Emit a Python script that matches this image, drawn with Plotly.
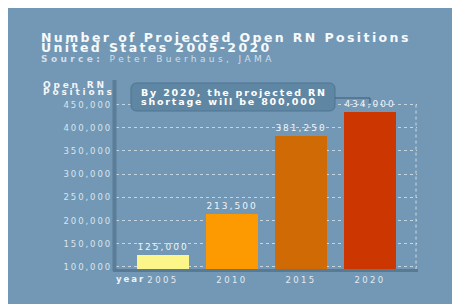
import plotly.graph_objects as go

# ---- data ----
years = ["2005", "2010", "2015", "2020"]
open_positions = [125000, 213500, 381250, 434000]
bar_colors = ["#fcf68a", "#fd9a02", "#d06a04", "#cc3600"]
y_ticks = [100000, 150000, 200000, 250000, 300000, 350000, 400000, 450000]
title_1 = "Number of Projected Open RN Positions"
title_2 = "United States 2005-2020"
source_label = "Source:"
source_text = "Peter Buerhaus, JAMA"
y_title = ["Open RN", "Positions"]
x_title = "year"
callout = ["By 2020, the projected RN", "shortage will be 800,000"]

# ---- layout geometry (screen pixels; page body adds an 8px offset) ----
W, H = 460, 304
OFF = 8
L, R, T, B = 116, 417, 80, 270
BG = "#7298b5"
FONT = "DejaVu Sans"
Y_MIN, Y_MAX = 93500, 503000


def px(x):
    return (x - L) / (R - L)


def py(y):
    return (B - y) / (B - T)


def sp(text, ls):
    return f'<span style="letter-spacing:{ls}px">{text}</span>'


xpos = list(range(len(years)))

fig = go.Figure()
fig.add_trace(go.Bar(
    x=xpos, y=open_positions, width=0.754,
    marker=dict(color=bar_colors, line=dict(width=0)),
    text=[sp(f"{v:,}", 2.0) for v in open_positions],
    textposition="outside", cliponaxis=False,
    textfont=dict(family=FONT, size=9, color="#eef3f7"),
    hoverinfo="skip",
))

shapes = []
# right dotted border of grid
shapes.append(dict(type="line", xref="paper", yref="y", x0=px(416), x1=px(416), y0=y_ticks[-1], y1=Y_MIN,
                   line=dict(color="rgba(255,255,255,0.65)", width=1, dash="dot")))
# axis lines
shapes.append(dict(type="line", xref="paper", yref="paper", x0=px(114.5), x1=px(114.5), y0=py(80), y1=py(271),
                   line=dict(color="#5b7d97", width=4)))
shapes.append(dict(type="line", xref="paper", yref="paper", x0=px(113), x1=px(418), y0=py(270.5), y1=py(270.5),
                   line=dict(color="#587a93", width=3)))
# callout box (rounded)
bx0, bx1, by0, by1, r = 131, 335, 83, 111, 6
path = (f"M {px(bx0 + r)},{py(by0)} L {px(bx1 - r)},{py(by0)} "
        f"Q {px(bx1)},{py(by0)} {px(bx1)},{py(by0 + r)} L {px(bx1)},{py(by1 - r)} "
        f"Q {px(bx1)},{py(by1)} {px(bx1 - r)},{py(by1)} L {px(bx0 + r)},{py(by1)} "
        f"Q {px(bx0)},{py(by1)} {px(bx0)},{py(by1 - r)} L {px(bx0)},{py(by0 + r)} "
        f"Q {px(bx0)},{py(by0)} {px(bx0 + r)},{py(by0)} Z")
shapes.append(dict(type="path", xref="paper", yref="paper", path=path,
                   fillcolor="#5f87a3", line=dict(color="#4e7590", width=1)))
# bracket line from callout to 2020 bar
shapes.append(dict(type="path", xref="paper", yref="paper",
                   path=f"M {px(335)},{py(98)} L {px(370)},{py(98)} L {px(370)},{py(103)}",
                   line=dict(color="#3f5b72", width=1)))

annotations = []


def ann(text, x, y, size, color, bold=False, xanchor="left", yanchor="middle"):
    t = f"<b>{text}</b>" if bold else text
    annotations.append(dict(text=t, xref="paper", yref="paper", x=px(x), y=py(y),
                            xanchor=xanchor, yanchor=yanchor, showarrow=False,
                            font=dict(family=FONT, size=size, color=color)))


ann(sp(title_1, 2.4), 39, 37.3, 12.5, "#f7f9fb", bold=True)
ann(sp(title_2, 2.4), 39, 47.3, 12.5, "#f7f9fb", bold=True)
ann(sp(f"<b>{source_label}</b> {source_text}", 3.4), 39, 59.2, 9, "#d3dee8")
ann(sp(y_title[0], 2.8), 41, 84.7, 9, "#f2f5f8", bold=True)
ann(sp(y_title[1], 2.8), 41, 92.2, 9, "#f2f5f8", bold=True)
ann(sp(x_title, 2.0), 114, 278.8, 8.5, "#eef3f7", bold=True)
ann(sp(callout[0], 1.8), 139, 92.3, 9.5, "#ffffff", bold=True)
ann(sp(callout[1], 1.8), 139, 101.5, 9.5, "#ffffff", bold=True)

fig.update_layout(
    width=W, height=H,
    margin=dict(l=L - OFF, r=W - (R - OFF), t=T - OFF, b=H - (B - OFF), pad=0),
    paper_bgcolor=BG, plot_bgcolor="rgba(0,0,0,0)",
    showlegend=False, bargap=0,
    shapes=shapes, annotations=annotations,
    xaxis=dict(range=[-0.68, 3.68], tickvals=xpos, ticktext=[sp(y, 2.4) for y in years],
               tickfont=dict(family=FONT, size=8.5, color="#e3ebf2"),
               showgrid=False, zeroline=False, showline=False,
               ticks="", ticklabelstandoff=3, fixedrange=True),
    yaxis=dict(range=[Y_MIN, Y_MAX], tickvals=y_ticks, ticktext=[sp(f"{v:,}", 1.9) for v in y_ticks],
               tickfont=dict(family=FONT, size=8.5, color="#dbe5ed"),
               showgrid=True, gridcolor="rgba(255,255,255,0.6)", griddash="dot", gridwidth=1,
               zeroline=False, showline=False,
               ticks="", ticklabelstandoff=3, fixedrange=True),
)

fig.write_html("out.html", config={"displayModeBar": False})
